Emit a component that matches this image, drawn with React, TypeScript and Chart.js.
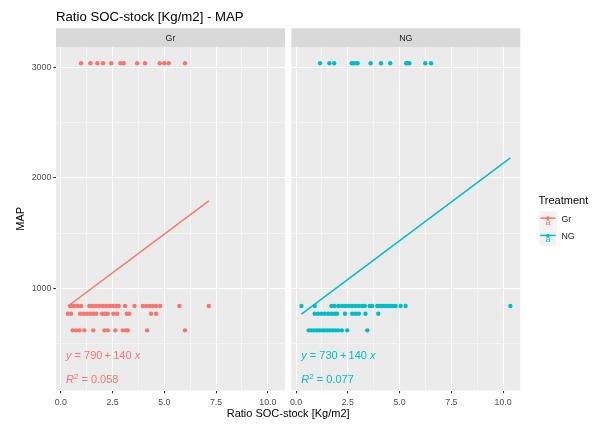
import React, { useEffect, useRef } from "react";
import { Chart, registerables } from "chart.js";

Chart.register(...registerables);

const FONT = '"Liberation Sans", Arial, Helvetica, sans-serif';

// ---- text ----
const TITLE = "Ratio SOC-stock [Kg/m2] - MAP";
const X_TITLE = "Ratio SOC-stock [Kg/m2]";
const Y_TITLE = "MAP";
const LEGEND_TITLE = "Treatment";
const FACETS = ["Gr", "NG"];
const COLORS = ["#F8766D", "#00BFC4"];

// ---- axes ----
const X_MAJOR = [0, 2.5, 5, 7.5, 10];
const X_MINOR = [1.25, 3.75, 6.25, 8.75];
const Y_MAJOR = [1000, 2000, 3000];
const Y_MINOR = [500, 1500, 2500];
const X_LIMITS = [-0.23, 10.83];
const Y_LIMITS = [76, 3182];

// ---- data: MAP levels and Ratio SOC-stock values at each level ----
const MAP_LEVELS = [3035, 840, 770, 620];

const GR_X_3035 = [0.98, 1.43, 1.77, 2.04, 2.44, 2.88, 3.04, 3.69, 4.07, 4.78, 5.0, 5.21, 6.0];
const GR_X_840 = [0.45, 0.55, 0.66, 0.82, 0.98, 1.38, 1.55, 1.71, 1.87, 2.03, 2.19, 2.35, 2.51, 2.67, 2.8, 3.11, 3.56, 3.96, 4.12, 4.28, 4.44, 4.6, 4.8, 5.73, 7.15];
const GR_X_770 = [0.34, 0.5, 0.93, 1.09, 1.26, 1.42, 1.57, 1.71, 2.0, 2.15, 2.27, 2.54, 2.72, 3.19, 3.31, 4.36, 4.6];
const GR_X_620 = [0.58, 0.74, 0.9, 1.14, 1.57, 2.11, 2.27, 2.64, 3.0, 3.15, 3.24, 4.17, 6.0];

const NG_X_3035 = [1.16, 1.61, 1.84, 2.69, 2.77, 2.89, 2.97, 3.6, 4.1, 4.55, 5.32, 5.39, 5.47, 6.24, 6.52];
const NG_X_840 = [0.26, 0.9, 1.71, 1.87, 2.06, 2.23, 2.39, 2.55, 2.71, 2.87, 3.03, 3.19, 3.32, 3.55, 3.68, 3.92, 4.03, 4.16, 4.29, 4.42, 4.55, 4.68, 4.81, 5.05, 5.29, 10.35];
const NG_X_770 = [0.9, 1.06, 1.22, 1.39, 1.55, 1.71, 1.87, 1.98, 2.36, 2.71, 2.87, 3.03, 3.35, 3.97];
const NG_X_620 = [0.61, 0.74, 0.87, 1.0, 1.13, 1.26, 1.39, 1.52, 1.64, 1.77, 1.9, 2.03, 2.21, 2.47, 3.44];

const GR_ROWS = [GR_X_3035, GR_X_840, GR_X_770, GR_X_620];
const NG_ROWS = [NG_X_3035, NG_X_840, NG_X_770, NG_X_620];

// ---- fitted lines (as printed) ----
const INTERCEPTS = [790, 730];
const SLOPES = [140, 140];
const R2 = ["0.058", "0.077"];

// ---- layout ----
const W = 599;
const H = 425;
const PANEL_LEFT = [56, 291.3];
const PANEL_RIGHT = [285, 520.3];
const PANEL_TOP = 47;
const PANEL_BOTTOM = 390.5;
const STRIP_TOP = 28.3;
const Y_AXIS_W = [56, 0];
const X_AXIS_H = 20;

const isMajorX = (v: number) => X_MAJOR.some((m) => Math.abs(m - v) < 1e-6);
const isMajorY = (v: number) => Y_MAJOR.some((m) => Math.abs(m - v) < 1e-6);

function drawEquation(ctx: CanvasRenderingContext2D, x: number, y: number, color: string, a: number, b: number) {
  const it = `italic 11px ${FONT}`;
  const nm = `11px ${FONT}`;
  const parts: [string, string][] = [
    [it, "y"],
    [nm, ` = ${a}\u2009+\u2009${b} `],
    [it, "x"],
  ];
  ctx.save();
  ctx.fillStyle = color;
  ctx.textAlign = "left";
  ctx.textBaseline = "alphabetic";
  let cx = x;
  for (const [f, t] of parts) {
    ctx.font = f;
    ctx.fillText(t, cx, y);
    cx += ctx.measureText(t).width;
  }
  ctx.restore();
}

function drawR2(ctx: CanvasRenderingContext2D, x: number, y: number, color: string, r2: string) {
  ctx.save();
  ctx.fillStyle = color;
  ctx.textAlign = "left";
  ctx.textBaseline = "alphabetic";
  let cx = x;
  ctx.font = `italic 11px ${FONT}`;
  ctx.fillText("R", cx, y);
  cx += ctx.measureText("R").width;
  ctx.font = `8px ${FONT}`;
  ctx.fillText("2", cx, y - 4.5);
  cx += ctx.measureText("2").width;
  ctx.font = `11px ${FONT}`;
  ctx.fillText(` = ${r2}`, cx, y);
  ctx.restore();
}

function makeChart(canvas: HTMLCanvasElement, i: number) {
  const rows = i === 0 ? GR_ROWS : NG_ROWS;
  const points: { x: number; y: number }[] = [];
  rows.forEach((xs, r) => xs.forEach((x) => points.push({ x, y: MAP_LEVELS[r] })));
  const allX = points.map((p) => p.x);
  const xMin = Math.min(...allX);
  const xMax = Math.max(...allX);
  const linePts = [xMin, xMax].map((x) => ({ x, y: INTERCEPTS[i] + SLOPES[i] * x }));
  const color = COLORS[i];

  const decor = {
    id: "facetDecor" + i,
    beforeDraw(chart: any) {
      const { ctx, chartArea: a } = chart;
      ctx.save();
      ctx.fillStyle = "#EBEBEB";
      ctx.fillRect(a.left, a.top, a.right - a.left, a.bottom - a.top);
      ctx.fillStyle = "#D9D9D9";
      ctx.fillRect(a.left, STRIP_TOP, a.right - a.left, a.top - STRIP_TOP);
      ctx.fillStyle = "#1A1A1A";
      ctx.font = `8.8px ${FONT}`;
      ctx.textAlign = "center";
      ctx.textBaseline = "middle";
      ctx.fillText(FACETS[i], (a.left + a.right) / 2, (STRIP_TOP + a.top) / 2 + 0.5);
      ctx.restore();
    },
    afterDatasetsDraw(chart: any) {
      const { ctx, chartArea: a } = chart;
      drawEquation(ctx, a.left + 10, a.bottom - 31.5, color, INTERCEPTS[i], SLOPES[i]);
      drawR2(ctx, a.left + 10, a.bottom - 7.2, color, R2[i]);
    },
    afterDraw(chart: any) {
      const { ctx, chartArea: a } = chart;
      ctx.save();
      if (i === 0) {
        ctx.fillStyle = "#000";
        ctx.font = `13.2px ${FONT}`;
        ctx.textAlign = "left";
        ctx.textBaseline = "alphabetic";
        ctx.fillText(TITLE, a.left, 20.5);
        ctx.font = `11px ${FONT}`;
        ctx.textAlign = "center";
        ctx.fillText(X_TITLE, (PANEL_LEFT[0] + PANEL_RIGHT[1]) / 2, 417);
        ctx.save();
        ctx.translate(24, (a.top + a.bottom) / 2);
        ctx.rotate(-Math.PI / 2);
        ctx.textAlign = "center";
        ctx.fillText(Y_TITLE, 0, 0);
        ctx.restore();
      } else {
        const lx = 539.3;
        ctx.fillStyle = "#000";
        ctx.font = `11px ${FONT}`;
        ctx.textAlign = "left";
        ctx.textBaseline = "alphabetic";
        ctx.fillText(LEGEND_TITLE, 538.5, 204);
        const key = 17.3;
        FACETS.forEach((f, k) => {
          const top = 211 + k * key;
          const cy = top + key / 2;
          ctx.fillStyle = "#F2F2F2";
          ctx.fillRect(lx, top, key, key);
          ctx.strokeStyle = COLORS[k];
          ctx.lineWidth = 1.5;
          ctx.beginPath();
          ctx.moveTo(lx + 1, cy - 1.5);
          ctx.lineTo(lx + key - 1, cy - 1.5);
          ctx.stroke();
          ctx.fillStyle = COLORS[k];
          ctx.beginPath();
          ctx.arc(lx + key / 2, cy - 1.5, 1.8, 0, Math.PI * 2);
          ctx.fill();
          ctx.font = `9px ${FONT}`;
          ctx.textAlign = "center";
          ctx.textBaseline = "alphabetic";
          ctx.fillText("a", lx + key / 2, cy + 5.5);
          ctx.fillStyle = "#1A1A1A";
          ctx.font = `8.8px ${FONT}`;
          ctx.textAlign = "left";
          ctx.textBaseline = "middle";
          ctx.fillText(f, 561.5, cy);
        });
      }
      ctx.restore();
    },
  };

  return new Chart(canvas, {
    type: "scatter",
    data: {
      datasets: [
        {
          label: FACETS[i] + " fit",
          data: linePts,
          showLine: true,
          borderColor: color,
          borderWidth: 1.5,
          pointRadius: 0,
          order: 0,
        } as any,
        {
          label: FACETS[i],
          data: points,
          backgroundColor: color,
          borderWidth: 0,
          pointRadius: 2.2,
          order: 1,
        },
      ],
    },
    options: {
      animation: false,
      responsive: false,
      devicePixelRatio: 1,
      events: [],
      layout: {
        padding: {
          left: PANEL_LEFT[i] - Y_AXIS_W[i],
          right: W - PANEL_RIGHT[i],
          top: PANEL_TOP,
          bottom: H - PANEL_BOTTOM - X_AXIS_H,
        },
      },
      plugins: {
        legend: { display: false },
        tooltip: { enabled: false },
        title: { display: false },
      },
      scales: {
        x: {
          type: "linear",
          min: X_LIMITS[0],
          max: X_LIMITS[1],
          afterBuildTicks: (s: any) => {
            s.ticks = [...X_MAJOR, ...X_MINOR].sort((p, q) => p - q).map((v) => ({ value: v }));
          },
          afterFit: (s: any) => {
            s.height = X_AXIS_H;
          },
          border: { display: false },
          grid: {
            color: "#FFFFFF",
            lineWidth: (c: any) => (c.tick && isMajorX(c.tick.value) ? 1.07 : 0.53),
            tickLength: 2.7,
            tickWidth: 1.07,
            tickColor: (c: any) => (c.tick && isMajorX(c.tick.value) ? "#333333" : "rgba(0,0,0,0)"),
          },
          ticks: {
            autoSkip: false,
            maxRotation: 0,
            padding: 4,
            color: "#4D4D4D",
            font: { family: FONT, size: 8.8 },
            callback: (v: any) => (isMajorX(Number(v)) ? Number(v).toFixed(1) : ""),
          },
        },
        y: {
          type: "linear",
          min: Y_LIMITS[0],
          max: Y_LIMITS[1],
          afterBuildTicks: (s: any) => {
            s.ticks = [...Y_MAJOR, ...Y_MINOR].sort((p, q) => p - q).map((v) => ({ value: v }));
          },
          afterFit: (s: any) => {
            s.width = Y_AXIS_W[i];
          },
          border: { display: false },
          grid: {
            color: "#FFFFFF",
            lineWidth: (c: any) => (c.tick && isMajorY(c.tick.value) ? 1.07 : 0.53),
            drawTicks: i === 0,
            tickLength: 2.7,
            tickWidth: 1.07,
            tickColor: (c: any) => (c.tick && isMajorY(c.tick.value) ? "#333333" : "rgba(0,0,0,0)"),
          },
          ticks: {
            display: i === 0,
            autoSkip: false,
            padding: 2,
            color: "#4D4D4D",
            font: { family: FONT, size: 8.8 },
            callback: (v: any) => (isMajorY(Number(v)) ? String(v) : ""),
          },
        },
      },
    },
    plugins: [decor],
  } as any);
}

export default function App() {
  const leftRef = useRef<HTMLCanvasElement>(null);
  const rightRef = useRef<HTMLCanvasElement>(null);

  useEffect(() => {
    const charts = [makeChart(leftRef.current!, 0), makeChart(rightRef.current!, 1)];
    return () => charts.forEach((c) => c.destroy());
  }, []);

  return (
    <div style={{ position: "fixed", left: 0, top: 0, width: W, height: H, background: "#FFFFFF" }}>
      <canvas ref={leftRef} width={W} height={H} style={{ position: "absolute", left: 0, top: 0 }} />
      <canvas ref={rightRef} width={W} height={H} style={{ position: "absolute", left: 0, top: 0 }} />
    </div>
  );
}
